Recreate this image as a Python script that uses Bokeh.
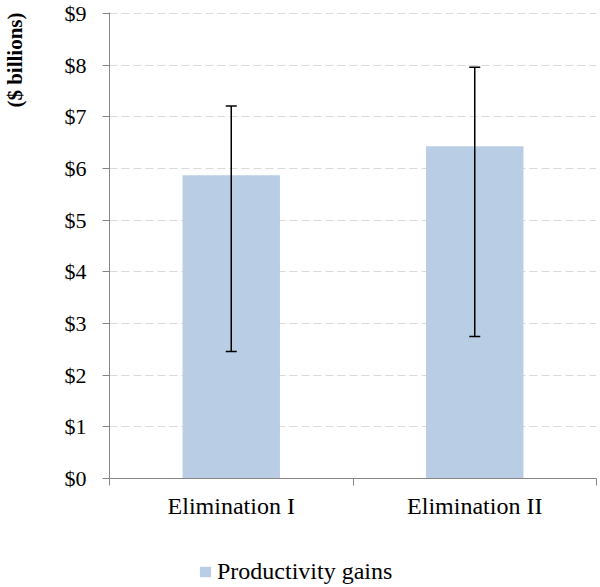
from bokeh.plotting import figure
from bokeh.layouts import column
from bokeh.models import (ColumnDataSource, Whisker, TeeHead, FixedTicker, Legend,
                          LegendItem, Range1d, Title)
from bokeh.embed import file_html
from bokeh.resources import INLINE

categories = ["Elimination I", "Elimination II"]
values = [5.87, 6.43]
err_lower = [2.46, 2.75]
err_upper = [7.21, 7.96]
y_ticks = [0, 1, 2, 3, 4, 5, 6, 7, 8, 9]
y_tick_labels = ["$0", "$1", "$2", "$3", "$4", "$5", "$6", "$7", "$8", "$9"]
series_name = "Productivity gains"
y_title = "($ billions)"

FONT = "Liberation Serif"
AXIS_GRAY = "#868686"
BAR_COLOR = "#B9CDE5"

xs = [i + 0.5 for i in range(len(categories))]
bounds = [float(i) for i in range(len(categories) + 1)]
src = ColumnDataSource(dict(x=xs, top=values, lower=err_lower, upper=err_upper))

p = figure(width=600, height=523, output_backend="svg", toolbar_location=None,
           x_range=Range1d(0, len(categories)), y_range=Range1d(y_ticks[0], y_ticks[-1] + 0.02),
           min_border_left=108, min_border_right=4, min_border_top=12, min_border_bottom=45)
p.outline_line_color = None
p.background_fill_color = "white"
p.border_fill_color = "white"

bars = p.vbar(x="x", top="top", width=0.4, source=src,
              fill_color=BAR_COLOR, line_color=None)

whisk = Whisker(base="x", lower="lower", upper="upper", source=src,
                line_color="black", line_width=1.5, level="overlay",
                upper_head=TeeHead(size=11, line_color="black", line_width=1.5),
                lower_head=TeeHead(size=11, line_color="black", line_width=1.5))
p.add_layout(whisk)

# grid
p.xgrid.visible = False
p.ygrid.grid_line_color = "#D9D9D9"
p.ygrid.grid_line_dash = "8 4"
p.ygrid.grid_line_width = 1

# y axis
yax = p.yaxis[0]
yax.ticker = FixedTicker(ticks=y_ticks)
yax.major_label_overrides = {t: l for t, l in zip(y_ticks, y_tick_labels)}
yax.axis_line_color = AXIS_GRAY
yax.major_tick_line_color = AXIS_GRAY
yax.major_tick_out = 7
yax.major_tick_in = 0
yax.minor_tick_line_color = None
yax.major_label_standoff = 16
yax.major_label_text_font = FONT
yax.major_label_text_font_size = "22px"
yax.major_label_text_color = "black"
# spacer that pushes the title out to the left edge
yax.axis_label = " "
yax.axis_label_text_font_size = "1px"
yax.axis_label_standoff = 31

# y title, top-aligned in the left panel
ttl = Title(text=y_title, align="right", text_font=FONT, text_font_style="bold",
            text_font_size="21px", text_color="black", standoff=0, offset=0)
p.add_layout(ttl, "left")

# x axis
xax = p.xaxis[0]
xax.ticker = FixedTicker(ticks=xs, minor_ticks=bounds)
xax.major_label_overrides = {x: c for x, c in zip(xs, categories)}
xax.axis_line_color = AXIS_GRAY
xax.major_tick_line_color = None
xax.major_tick_out = 0
xax.major_tick_in = 0
xax.minor_tick_line_color = AXIS_GRAY
xax.minor_tick_out = 7
xax.minor_tick_in = 0
xax.major_label_standoff = 7
xax.major_label_text_font = FONT
xax.major_label_text_font_size = "24px"
xax.major_label_text_color = "black"

# legend strip below the chart (frame aligned with the chart's frame)
lf = figure(width=600, height=64, output_backend="svg", toolbar_location=None,
            x_range=Range1d(0, 1), y_range=Range1d(0, 1),
            x_axis_location=None, y_axis_location=None, min_border=0)
lf.outline_line_color = None
lf.xgrid.visible = False
lf.ygrid.visible = False
lf.background_fill_color = "white"
lf.border_fill_color = "white"
# a zero-height key bar outside the strip's view; it only supplies the legend swatch
key_src = ColumnDataSource(dict(x=[len(categories) + 10], top=[0]))
key = lf.vbar(x="x", top="top", width=0.4, source=key_src,
              fill_color=BAR_COLOR, line_color=None)

legend = Legend(items=[LegendItem(label=series_name, renderers=[key])],
                location=(89, 2), orientation="horizontal",
                padding=0, margin=0, border_line_color=None,
                background_fill_alpha=0, label_text_font=FONT,
                label_text_font_size="24px", label_text_color="black",
                glyph_width=14, glyph_height=13, label_standoff=5)
lf.add_layout(legend, "center")

layout = column(p, lf, spacing=0)
open("out.html", "w").write(file_html(layout, INLINE))
